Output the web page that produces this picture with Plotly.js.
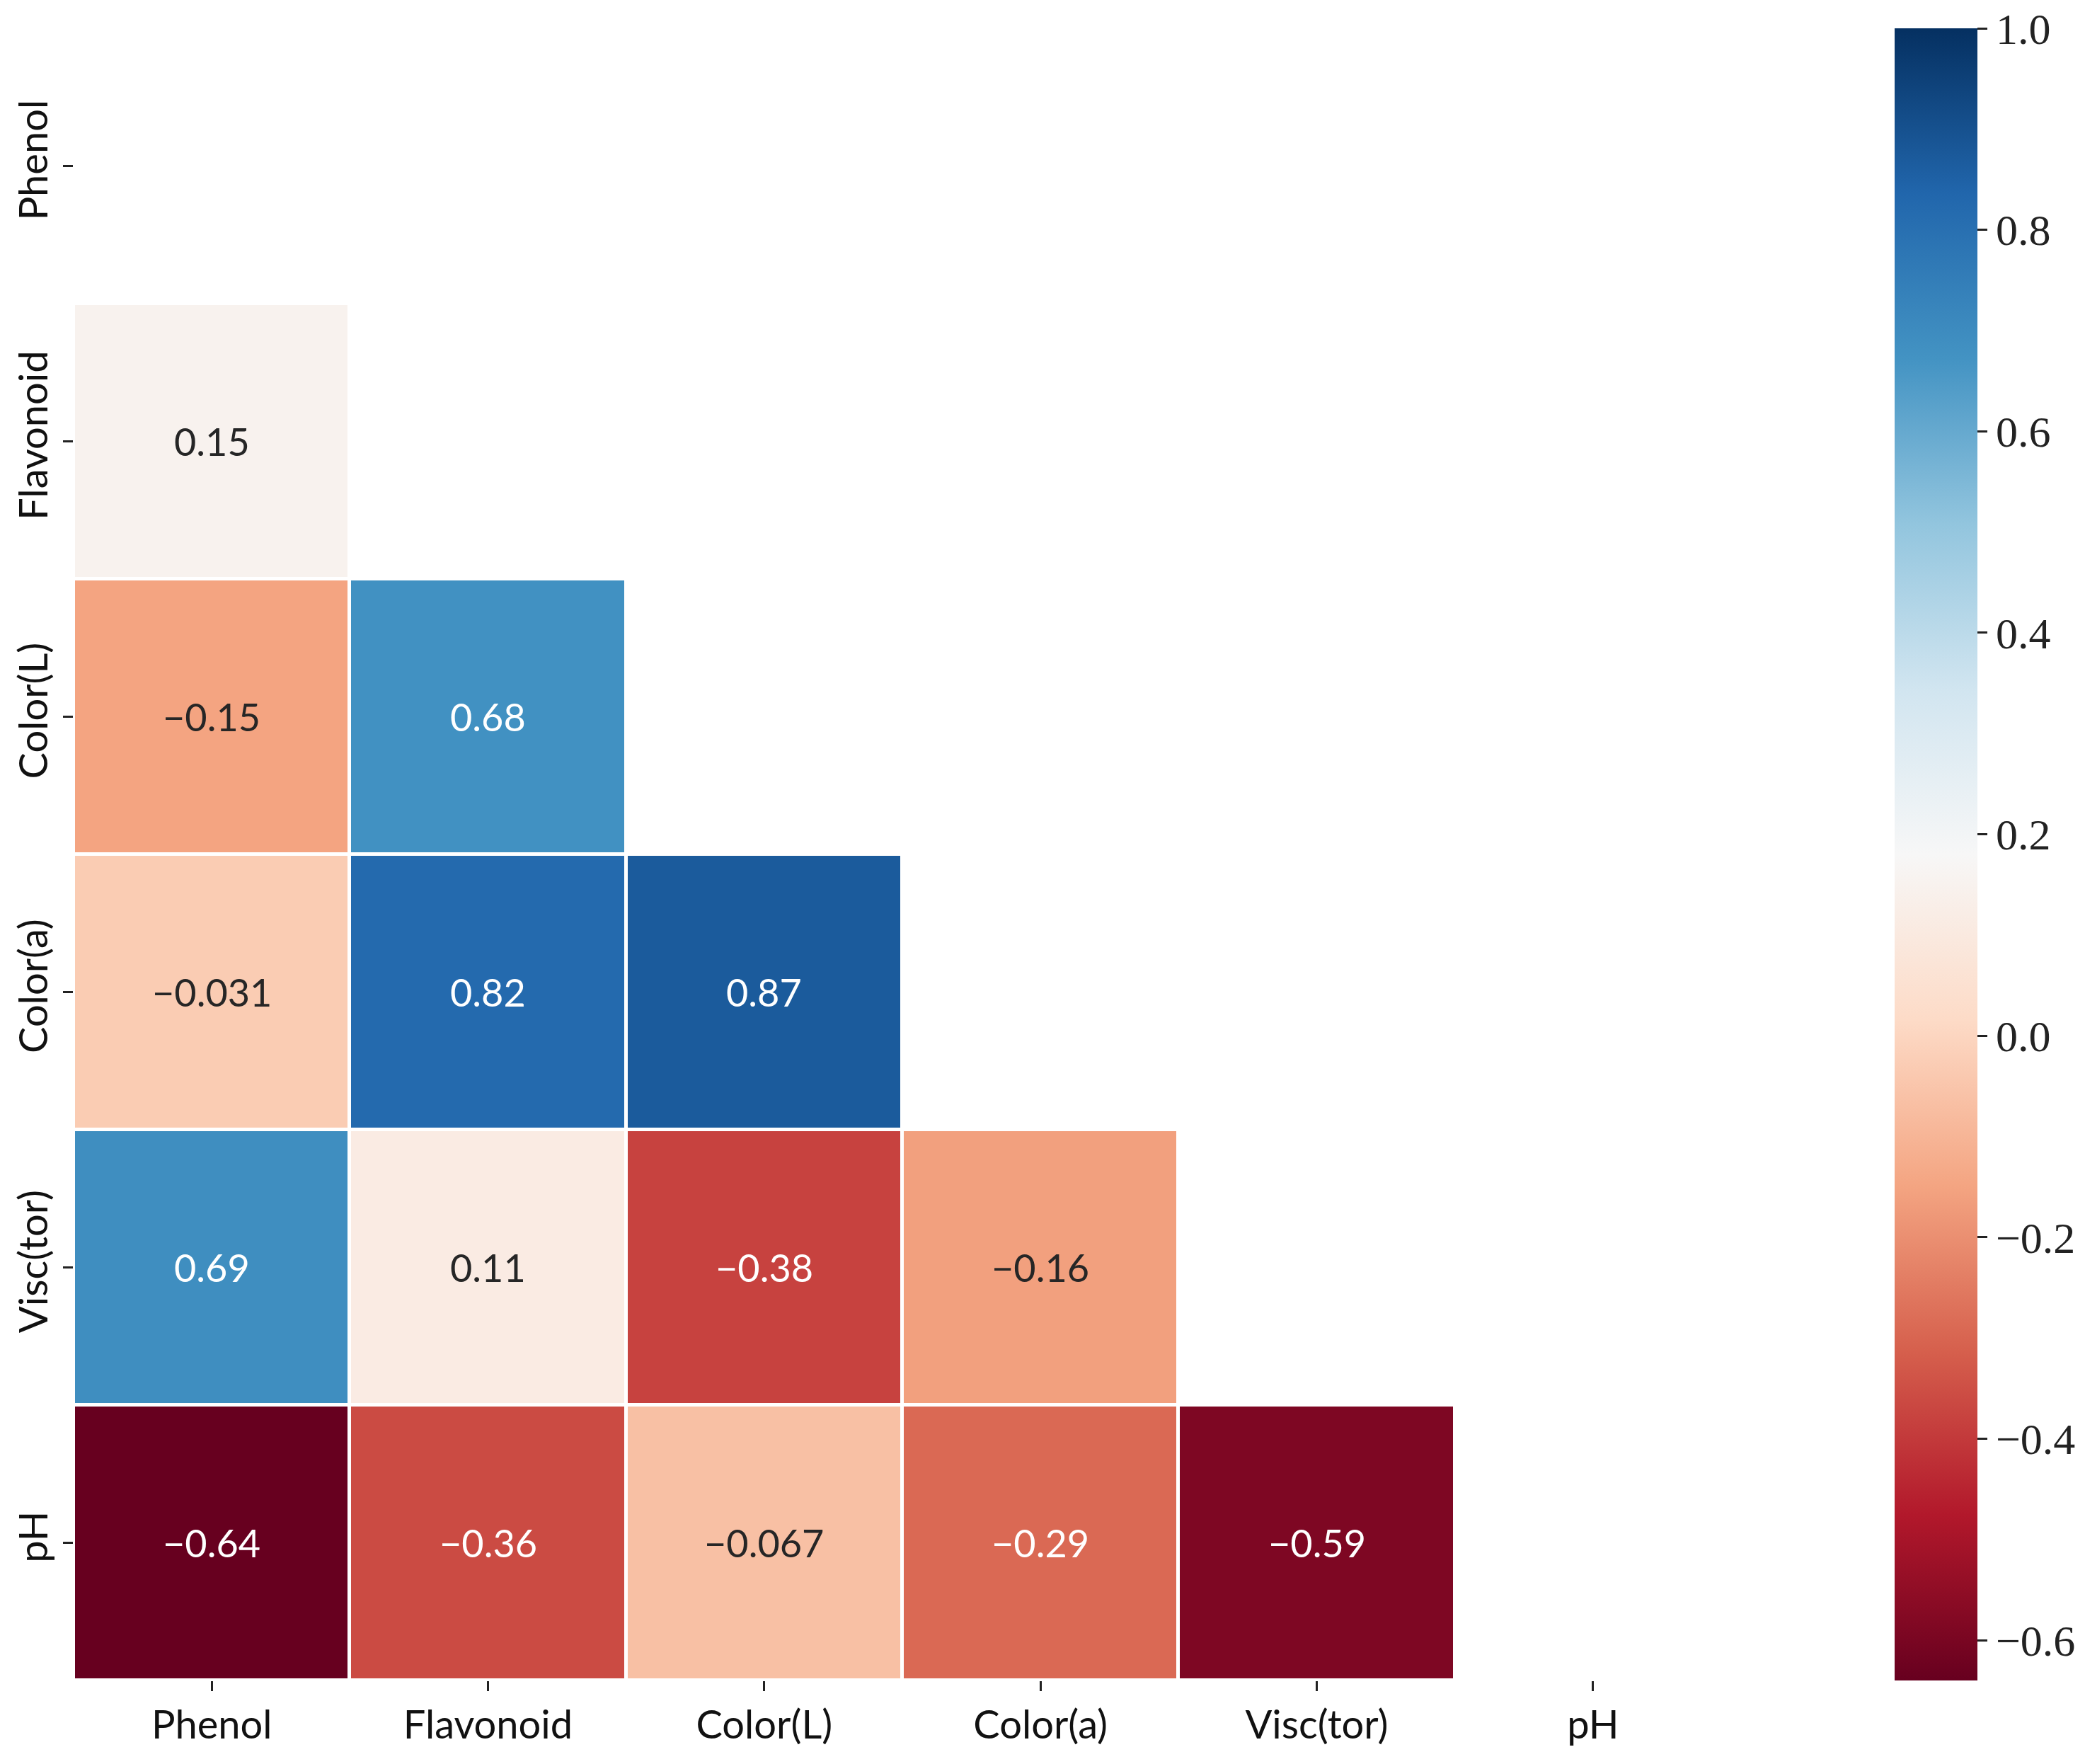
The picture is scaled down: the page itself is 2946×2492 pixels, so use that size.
<!DOCTYPE html>
<html>
<head>
<meta charset="utf-8">
<script src="https://cdn.plot.ly/plotly-3.0.1.min.js"></script>
<style>html,body{margin:0;padding:0;background:#fff;}</style>
</head>
<body>
<div id="chart" style="width:2946px;height:2492px;"></div>
<script>
// Variables (same order on both axes)
const variables = ["Phenol", "Flavonoid", "Color(L)", "Color(a)", "Visc(tor)", "pH"];

// Lower-triangle correlations, one row per variable (diagonal/upper masked)
const rowPhenol    = [];
const rowFlavonoid = [0.15];
const rowColorL    = [-0.15, 0.68];
const rowColorA    = [-0.031, 0.82, 0.87];
const rowVisc      = [0.69, 0.11, -0.38, -0.16];
const rowPH        = [-0.64, -0.36, -0.067, -0.29, -0.59];

// Colour scale limits and colour-bar ticks
const zMin = -0.64;
const zMax = 1.0;
const cbTickVals = [-0.6, -0.4, -0.2, 0.0, 0.2, 0.4, 0.6, 0.8, 1.0];

// matplotlib RdBu
const rdbuColors = ["#67001f","#b2182b","#d6604d","#f4a582","#fddbc7","#f7f7f7",
                    "#d1e5f0","#92c5de","#4393c3","#2166ac","#053061"];
const colorscale = rdbuColors.map((c, i) => [i / (rdbuColors.length - 1), c]);

const rows = [rowPhenol, rowFlavonoid, rowColorL, rowColorA, rowVisc, rowPH];
const z = rows.map(r => variables.map((_, j) => (j < r.length ? r[j] : null)));

function hexToRgb(h) {
  return [parseInt(h.slice(1,3),16), parseInt(h.slice(3,5),16), parseInt(h.slice(5,7),16)];
}
function colorAt(v) {
  let t = (v - zMin) / (zMax - zMin);
  t = Math.max(0, Math.min(1, t));
  const n = rdbuColors.length - 1;
  const k = Math.min(n - 1, Math.floor(t * n));
  const f = t * n - k;
  const a = hexToRgb(rdbuColors[k]), b = hexToRgb(rdbuColors[k + 1]);
  return a.map((x, i) => x + (b[i] - x) * f);
}
function luminance(rgb) {
  const c = rgb.map(x => {
    x = x / 255;
    return x <= 0.03928 ? x / 12.92 : Math.pow((x + 0.055) / 1.055, 2.4);
  });
  return 0.2126 * c[0] + 0.7152 * c[1] + 0.0722 * c[2];
}
function fmt(v) {
  let s = Number(v).toPrecision(2);
  if (s.indexOf("e") >= 0) s = String(v);
  return s.replace("-", "\u2212");
}

const annotations = [];
rows.forEach((r, i) => {
  r.forEach((v, j) => {
    const lum = luminance(colorAt(v));
    annotations.push({
      x: variables[j], y: variables[i], xref: "x", yref: "y",
      text: fmt(v), showarrow: false,
      font: {family: "Lato, 'DejaVu Sans', sans-serif", size: 54,
             color: lum > 0.408 ? "#262626" : "#ffffff"}
    });
  });
});

const cbText = cbTickVals.map(v => v.toFixed(1).replace("-", "\u2212"));

const trace = {
  type: "heatmap",
  x: variables,
  y: variables,
  z: z,
  zmin: zMin,
  zmax: zMax,
  colorscale: colorscale,
  xgap: 5,
  ygap: 5,
  hoverongaps: false,
  colorbar: {
    x: 1.0986, xanchor: "left", xref: "paper",
    y: 0.5, yanchor: "middle", len: 1, lenmode: "fraction",
    thickness: 117, thicknessmode: "pixels",
    outlinewidth: 0,
    ticks: "outside", ticklen: 14, tickwidth: 3, tickcolor: "#222",
    tickvals: cbTickVals, ticktext: cbText,
    tickfont: {family: "'Liberation Serif', 'DejaVu Serif', serif", size: 62, color: "#222"},
    xpad: 0, ypad: 0
  }
};

const layout = {
  width: 2946, height: 2492,
  margin: {l: 104, r: 500, t: 40, b: 118},
  paper_bgcolor: "#ffffff",
  plot_bgcolor: "#ffffff",
  xaxis: {
    type: "category", showgrid: false, zeroline: false, showline: false,
    ticks: "outside", ticklen: 14, tickwidth: 3, tickcolor: "#222",
    tickfont: {family: "Lato, 'DejaVu Sans', sans-serif", size: 56, color: "#111"},
    fixedrange: true
  },
  yaxis: {
    type: "category", autorange: "reversed", showgrid: false, zeroline: false, showline: false,
    ticks: "outside", ticklen: 14, tickwidth: 3, tickcolor: "#222", tickangle: -90,
    tickfont: {family: "Lato, 'DejaVu Sans', sans-serif", size: 56, color: "#111"},
    fixedrange: true
  },
  annotations: annotations,
  showlegend: false
};

Plotly.newPlot("chart", [trace], layout, {displayModeBar: false, staticPlot: true});
</script>
</body>
</html>
